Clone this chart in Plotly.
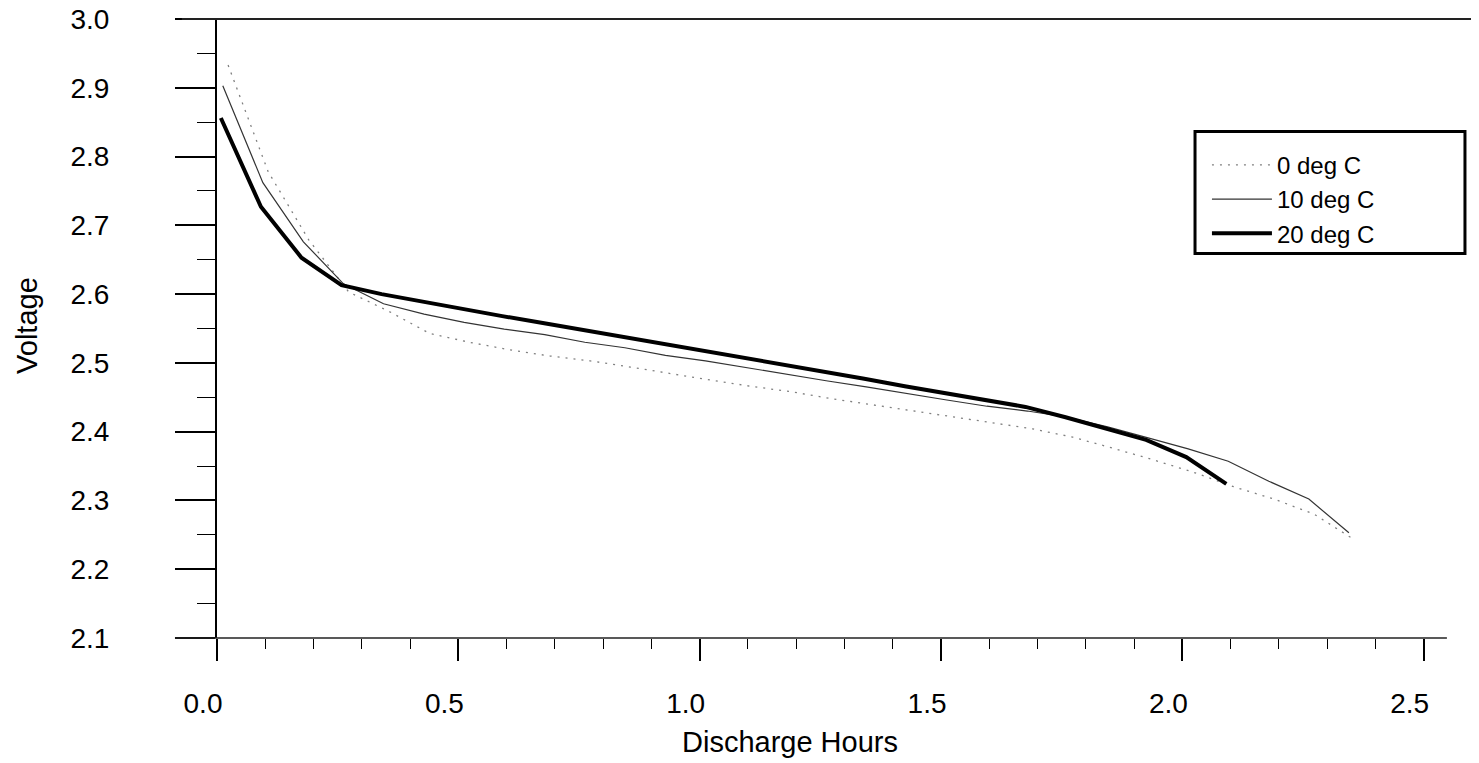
import plotly.graph_objects as go

# discharge curves
hours_0c = [0.023, 0.106, 0.190, 0.273, 0.356, 0.440, 0.523, 0.606, 0.690, 0.773,
            0.856, 0.940, 1.023, 1.106, 1.190, 1.273, 1.356, 1.440, 1.523, 1.606,
            1.690, 1.773, 1.856, 1.940, 2.023, 2.106, 2.190, 2.273, 2.356]
volts_0c = [2.933, 2.778, 2.679, 2.603, 2.575, 2.543, 2.530, 2.519, 2.510, 2.503,
            2.494, 2.484, 2.475, 2.466, 2.458, 2.448, 2.439, 2.430, 2.421, 2.413,
            2.404, 2.392, 2.376, 2.359, 2.341, 2.320, 2.302, 2.280, 2.243]

hours_10c = [0.012, 0.095, 0.179, 0.262, 0.345, 0.429, 0.512, 0.595, 0.679, 0.762,
             0.845, 0.929, 1.012, 1.095, 1.179, 1.262, 1.345, 1.429, 1.512, 1.595,
             1.679, 1.762, 1.845, 1.929, 2.012, 2.095, 2.179, 2.262, 2.345]
volts_10c = [2.903, 2.762, 2.676, 2.615, 2.586, 2.571, 2.559, 2.549, 2.541, 2.530,
             2.522, 2.511, 2.503, 2.493, 2.484, 2.474, 2.465, 2.455, 2.446, 2.437,
             2.430, 2.421, 2.407, 2.391, 2.375, 2.357, 2.328, 2.302, 2.253]

hours_20c = [0.008, 0.091, 0.175, 0.258, 0.341, 0.425, 0.508, 0.591, 0.675, 0.758,
             0.841, 0.925, 1.008, 1.091, 1.175, 1.258, 1.341, 1.425, 1.508, 1.591,
             1.675, 1.758, 1.841, 1.925, 2.008, 2.091]
volts_20c = [2.856, 2.727, 2.653, 2.613, 2.600, 2.589, 2.578, 2.568, 2.558, 2.548,
             2.538, 2.527, 2.517, 2.507, 2.497, 2.487, 2.477, 2.466, 2.456, 2.446,
             2.436, 2.421, 2.405, 2.388, 2.363, 2.324]

x_ticks = [0.0, 0.5, 1.0, 1.5, 2.0, 2.5]
x_tick_text = ["0.0", "0.5", "1.0", "1.5", "2.0", "2.5"]
y_ticks = [2.1, 2.2, 2.3, 2.4, 2.5, 2.6, 2.7, 2.8, 2.9, 3.0]

FONT = "Liberation Sans, Arial, sans-serif"

fig = go.Figure()
fig.add_trace(go.Scatter(x=hours_0c, y=volts_0c, mode="lines", name="0 deg C",
                         line=dict(color="#808080", width=1.3, dash="2px,6px")))
fig.add_trace(go.Scatter(x=hours_10c, y=volts_10c, mode="lines", name="10 deg C",
                         line=dict(color="#333333", width=1.2)))
fig.add_trace(go.Scatter(x=hours_20c, y=volts_20c, mode="lines", name="20 deg C",
                         line=dict(color="black", width=4)))

# the page body adds an 8px offset, so margins are 8px smaller on top/left
fig.update_layout(
    width=1479, height=763,
    margin=dict(l=209, r=15, t=11, b=133, autoexpand=False),
    paper_bgcolor="white", plot_bgcolor="white",
    font=dict(family=FONT, color="black"),
    showlegend=True,
    legend=dict(
        x=0.7888, y=0.80, xanchor="left", yanchor="top",
        borderwidth=0, bgcolor="rgba(0,0,0,0)",
        font=dict(size=24, family=FONT),
        itemwidth=60, tracegroupgap=0,
    ),
    xaxis=dict(
        range=[0, 2.6], tickvals=x_ticks, ticktext=x_tick_text,
        showgrid=False, zeroline=False, showline=False, automargin=False,
        ticks="outside", ticklen=22, tickwidth=1.5, tickcolor="black",
        minor=dict(dtick=0.1, tick0=0, ticks="outside", ticklen=10,
                   tickwidth=1.2, tickcolor="black", showgrid=False),
        tickfont=dict(size=28, family=FONT),
        ticklabelstandoff=18, ticklabelshift=-14, ticklabeloverflow="allow",
    ),
    yaxis=dict(
        range=[2.1, 3.0], tickvals=y_ticks, tickformat=".1f",
        showgrid=False, zeroline=False, automargin=False,
        showline=True, linecolor="black", linewidth=2,
        ticks="outside", ticklen=40, tickwidth=1.5, tickcolor="black",
        minor=dict(dtick=0.05, tick0=2.1, ticks="outside", ticklen=18,
                   tickwidth=1.2, tickcolor="black", showgrid=False),
        tickfont=dict(size=28, family=FONT),
        ticklabelstandoff=60, ticklabeloverflow="allow",
    ),
    shapes=[
        # top frame line, x axis line, faint right border
        dict(type="line", xref="paper", yref="paper", x0=-0.028, x1=1.02, y0=1, y1=1,
             line=dict(color="#222222", width=2)),
        dict(type="line", xref="paper", yref="paper", x0=-0.0335, x1=0.98, y0=0, y1=0,
             line=dict(color="#222222", width=1.5)),
        dict(type="line", xref="paper", yref="paper", x0=1.0, x1=1.0, y0=1, y1=-0.035,
             line=dict(color="#999999", width=1.5, dash="12px,3px")),
        # legend frame
        dict(type="rect", xref="paper", yref="paper", x0=0.7793, x1=0.9944, y0=0.8183, y1=0.6212,
             line=dict(color="black", width=3), fillcolor="rgba(0,0,0,0)"),
    ],
    annotations=[
        dict(text="Discharge Hours", xref="paper", yref="paper", x=0.4566, y=-0.168,
             xanchor="center", yanchor="middle", showarrow=False,
             font=dict(size=29, family=FONT)),
        dict(text="Voltage", xref="paper", yref="paper", x=-0.1514, y=0.5057,
             xanchor="center", yanchor="middle", showarrow=False, textangle=-90,
             font=dict(size=29, family=FONT)),
    ],
)

fig.write_html("out.html")
